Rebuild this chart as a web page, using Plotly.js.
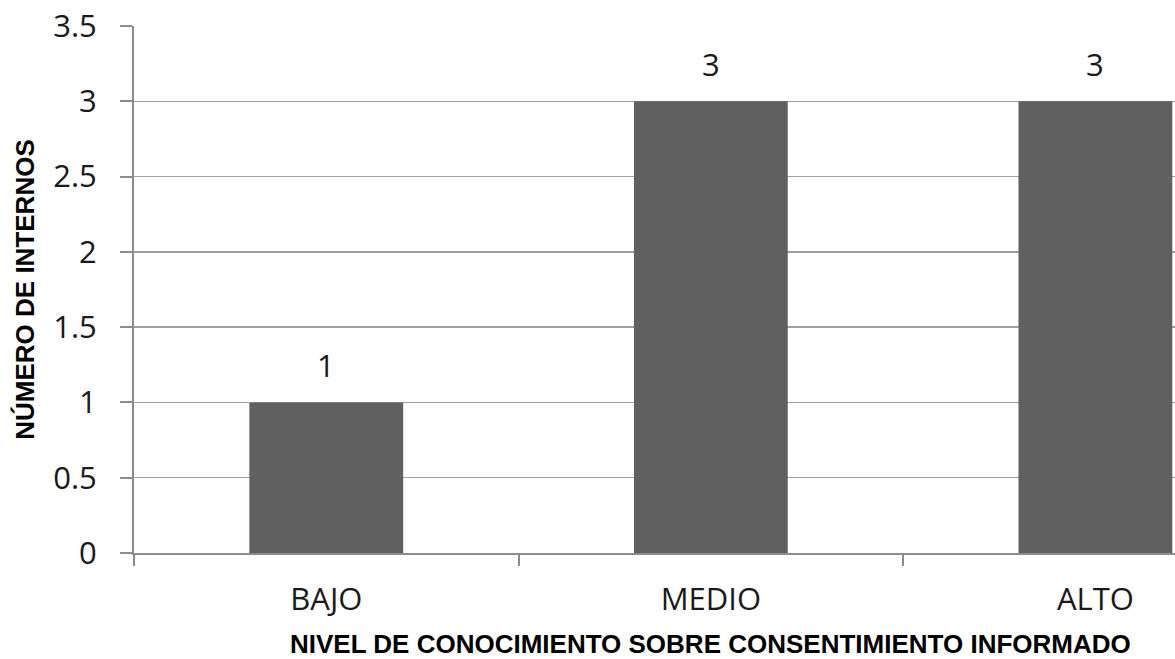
<!DOCTYPE html>
<html>
<head>
<meta charset="utf-8">
<script src="https://cdn.plot.ly/plotly-3.0.1.min.js"></script>
<style>html,body{margin:0;padding:0;overflow:hidden;background:#fff}</style>
</head>
<body>
<div id="chart" style="width:1175px;height:659px"></div>
<script>
var categories = ["BAJO", "MEDIO", "ALTO"];
var values = [1, 3, 3];
var yTickVals = [0, 0.5, 1, 1.5, 2, 2.5, 3, 3.5];
var yTickText = ["0", "0.5", "1", "1.5", "2", "2.5", "3", "3.5"];
var xTitle = "NIVEL DE CONOCIMIENTO SOBRE CONSENTIMIENTO INFORMADO";
var yTitle = "NÚMERO DE INTERNOS";

var gridCol = "#a0a0a0";
var axisCol = "#8c8c8c";
var tickFont = {family: "Open Sans, sans-serif", size: 31, color: "#1a1a1a"};
var titleFont = {family: "Liberation Sans, Arial, sans-serif", size: 26, color: "#000", weight: "bold"};

var trace = {
  type: "bar",
  x: categories,
  y: values,
  width: 0.4,
  marker: {color: "#606060", line: {width: 0}},
  hoverinfo: "x+y"
};

var annotations = categories.map(function (c, i) {
  return {
    x: c, y: values[i], xref: "x", yref: "y",
    text: String(values[i]), showarrow: false,
    yanchor: "bottom", yshift: 14,
    font: tickFont
  };
});

// x-axis title centred on the full (partly cropped) category span
annotations.push({
  x: 0.554, y: 0, xref: "paper", yref: "paper",
  xanchor: "center", yanchor: "top", yshift: -74,
  text: xTitle, showarrow: false,
  font: titleFont
});

var layout = {
  width: 1175, height: 659,
  margin: {l: 134, r: 0, t: 26, b: 106, pad: 0},
  paper_bgcolor: "#fff", plot_bgcolor: "#fff",
  showlegend: false,
  bargap: 0.6,
  xaxis: {
    type: "category",
    range: [-0.5, 2.207],
    showgrid: false,
    showline: true, linecolor: axisCol, linewidth: 2,
    ticks: "outside", tickson: "boundaries", ticklen: 11, tickwidth: 2, tickcolor: axisCol,
    tickfont: tickFont,
    ticklabelstandoff: 18,
    automargin: false
  },
  yaxis: {
    range: [0, 3.5],
    tickvals: yTickVals, ticktext: yTickText,
    showgrid: true, gridcolor: gridCol, gridwidth: 1.5,
    zeroline: false,
    showline: true, linecolor: axisCol, linewidth: 2,
    ticks: "outside", ticklen: 12, tickwidth: 2, tickcolor: axisCol,
    tickfont: tickFont,
    ticklabelstandoff: 17,
    title: {text: yTitle, font: titleFont, standoff: 11},
    automargin: false
  },
  annotations: annotations
};

Plotly.newPlot("chart", [trace], layout, {displayModeBar: false, staticPlot: true});
</script>
</body>
</html>
